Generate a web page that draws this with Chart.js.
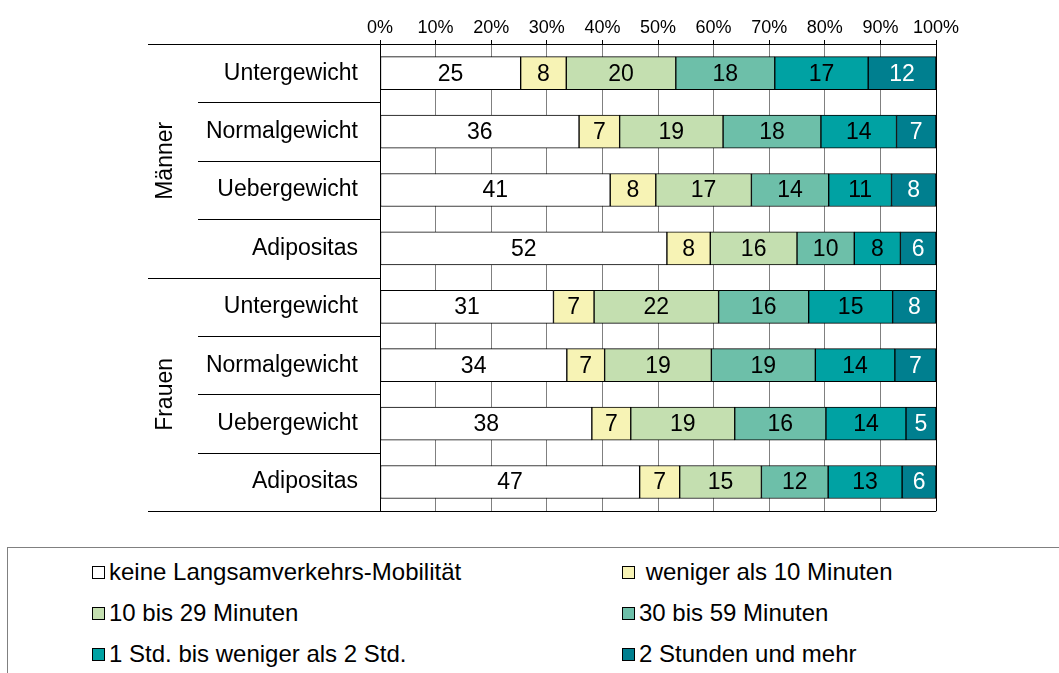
<!DOCTYPE html>
<html>
<head>
<meta charset="utf-8">
<script src="https://cdn.jsdelivr.net/npm/chart.js@4"></script>
<style>
  body { margin: 0; background: #fff; font-family: "Liberation Sans", Arial, sans-serif; }
  #wrap { position: relative; width: 1059px; height: 673px; overflow: hidden; }
  #chart { position: absolute; left: 0; top: 0; }
  #legend { position: absolute; left: 7px; top: 547px; right: -10px; bottom: -10px;
            border-top: 1px solid #808080; border-left: 1px solid #808080; }
  .item { position: absolute; font-size: 24px; color: #000; white-space: pre; line-height: 24px; }
  .item span { display: inline-block; width: 11px; height: 11px; border: 1px solid #000;
               margin-right: 4px; vertical-align: 1px; }
</style>
</head>
<body>
<div id="wrap">
  <canvas id="chart" width="1059" height="547"></canvas>
  <div id="legend"></div>
</div>
<script>
const categories = ["Untergewicht", "Normalgewicht", "Uebergewicht", "Adipositas",
                    "Untergewicht", "Normalgewicht", "Uebergewicht", "Adipositas"];
const groups = ["Männer", "Frauen"];
const seriesNames = ["keine Langsamverkehrs-Mobilität", " weniger als 10 Minuten", "10 bis 29 Minuten",
                     "30 bis 59 Minuten", "1 Std. bis weniger als 2 Std.", "2 Stunden und mehr"];

// percent per row
const keine   = [25.3, 35.8, 41.4, 51.6, 31.2, 33.6, 38.1, 46.7];
const unter10 = [8.2, 7.3, 8.2, 7.8, 7.3, 6.8, 7.0, 7.2];
const min1029 = [19.7, 18.6, 17.2, 15.6, 22.4, 19.2, 18.7, 14.7];
const min3059 = [17.8, 17.6, 13.9, 10.3, 16.2, 18.7, 16.4, 12.0];
const std1bis2 = [16.8, 13.6, 11.3, 8.3, 15.1, 14.3, 14.4, 13.3];
const std2mehr = [12.2, 7.1, 8.0, 6.4, 7.8, 7.4, 5.4, 6.1];

const xTicks = [0, 10, 20, 30, 40, 50, 60, 70, 80, 90, 100];

const colors = ["#FFFFFF", "#F7F3B5", "#C4DFB0", "#6DBFA9", "#00A2A3", "#007F8F"];
const labelColors = ["#000", "#000", "#000", "#000", "#000", "#fff"];
const FONT = "'Liberation Sans', Arial, sans-serif";

const allSeries = [keine, unter10, min1029, min3059, std1bis2, std2mehr];

const valueLabels = {
    id: "valueLabels",
    afterDatasetsDraw(chart) {
        const ctx = chart.ctx;
        ctx.save();
        ctx.font = "23px " + FONT;
        ctx.textAlign = "center";
        ctx.textBaseline = "middle";
        chart.data.datasets.forEach((ds, i) => {
            const meta = chart.getDatasetMeta(i);
            ctx.fillStyle = labelColors[i];
            meta.data.forEach((bar, j) => {
                const p = bar.getCenterPoint();
                ctx.fillText(Math.round(ds.data[j]), p.x, p.y + 1);
            });
        });
        ctx.restore();
    }
};

// frame lines, category separators and the rotated group names
const frame = {
    id: "frame",
    afterDraw(chart) {
        const ctx = chart.ctx;
        const area = chart.chartArea;
        const y = chart.scales.y;
        ctx.save();
        ctx.strokeStyle = "#000";
        ctx.lineWidth = 1;
        for (let k = 0; k <= categories.length; k++) {
            const py = Math.round(y.getPixelForValue(k - 0.5)) + 0.5;
            let x0 = 198, x1 = area.left;
            if (k % 4 === 0) x0 = 148;
            if (k === 0 || k === categories.length) x1 = area.right;
            ctx.beginPath();
            ctx.moveTo(x0, py);
            ctx.lineTo(x1, py);
            ctx.stroke();
        }
        ctx.beginPath();
        ctx.moveTo(Math.round(area.right) + 0.5, area.top);
        ctx.lineTo(Math.round(area.right) + 0.5, area.bottom);
        ctx.stroke();

        ctx.fillStyle = "#000";
        ctx.font = "23px " + FONT;
        ctx.textAlign = "center";
        ctx.textBaseline = "middle";
        groups.forEach((g, gi) => {
            const cy = (y.getPixelForValue(gi * 4 - 0.5) + y.getPixelForValue(gi * 4 + 3.5)) / 2;
            ctx.save();
            ctx.translate(166, cy);
            ctx.rotate(-Math.PI / 2);
            ctx.fillText(g, 0, 0);
            ctx.restore();
        });
        ctx.restore();
    }
};

const ctx = document.getElementById("chart").getContext("2d");
const chart = new Chart(ctx, {
    type: "bar",
    data: {
        labels: categories,
        datasets: allSeries.map((d, i) => ({
            label: seriesNames[i],
            data: d,
            backgroundColor: colors[i],
            borderColor: "#000",
            borderWidth: 1,
            borderSkipped: false,
            barThickness: 33
        }))
    },
    options: {
        indexAxis: "y",
        responsive: false,
        animation: false,
        layout: { padding: { left: 0, right: 123, top: 0, bottom: 3 } },
        plugins: {
            legend: { display: false },
            tooltip: { enabled: false }
        },
        scales: {
            x: {
                position: "top",
                stacked: true,
                min: 0,
                max: 100,
                afterBuildTicks: s => { s.ticks = xTicks.map(v => ({ value: v })); },
                afterFit: s => { s.height = 44; },
                ticks: {
                    callback: v => v + "%",
                    color: "#000",
                    font: { family: FONT, size: 18 },
                    padding: 1,
                    maxRotation: 0
                },
                grid: { color: "#808080", tickLength: 4, tickColor: "#000" },
                border: { display: true, color: "#000" }
            },
            y: {
                stacked: true,
                afterFit: s => { s.width = 380; },
                ticks: {
                    color: "#000",
                    font: { family: FONT, size: 23 },
                    padding: 22
                },
                grid: { display: false, drawTicks: false },
                border: { display: true, color: "#000" }
            }
        }
    },
    plugins: [valueLabels, frame]
});

// legend in two columns, built from the datasets
const legend = document.getElementById("legend");
const colX = [92, 622];
const rowY = [572, 613, 654];
chart.data.datasets.forEach((ds, i) => {
    const el = document.createElement("div");
    el.className = "item";
    el.style.left = (colX[i % 2] - 8) + "px";
    el.style.top = (rowY[Math.floor(i / 2)] - 547 - 13) + "px";
    const sw = document.createElement("span");
    sw.style.background = ds.backgroundColor;
    el.appendChild(sw);
    el.appendChild(document.createTextNode(ds.label));
    legend.appendChild(el);
});
</script>
</body>
</html>
